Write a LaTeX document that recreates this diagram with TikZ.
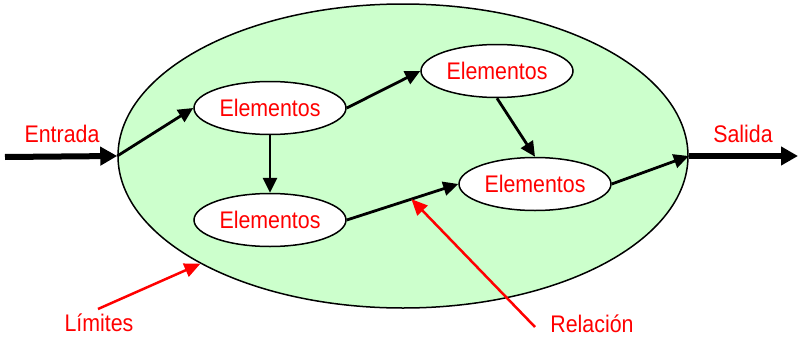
\documentclass[tikz,border=0pt]{standalone}
\usepackage{fontspec}
\setmainfont{Liberation Sans}
\usetikzlibrary{arrows.meta,shapes.geometric}
\definecolor{sysgreen}{HTML}{CCFFCC}
\definecolor{lblred}{HTML}{FF0000}
\newcommand{\lbl}[1]{\scalebox{0.89}[1]{#1}}
\begin{document}
\begin{tikzpicture}[x=1pt,y=-1pt,
  txt/.style={text=lblred,font=\fontsize{24}{24}\selectfont,inner sep=1pt},
  elem/.style={ellipse,draw=black,line width=1.5pt,fill=white,minimum width=152pt,minimum height=53pt,inner sep=0pt,text=lblred,font=\fontsize{24}{24}\selectfont},
  flow/.style={line width=2.8pt,-{Triangle[length=15pt,width=14pt]}},
  io/.style={line width=6pt,-{Triangle[length=17pt,width=18pt]}},
  note/.style={draw=lblred,line width=2.5pt,-{Triangle[length=16pt,width=14pt]}}]
\useasboundingbox (0,0) rectangle (798,340);
\node[ellipse,draw=black,line width=1.5pt,fill=sysgreen,minimum width=570pt,minimum height=304pt,inner sep=0pt] (sys) at (403,156) {};
\node[elem] (e1) at (270,108) {\lbl{Elementos}};
\node[elem] (e2) at (497,71) {\lbl{Elementos}};
\node[elem] (e3) at (270,220) {\lbl{Elementos}};
\node[elem] (e4) at (535,184) {\lbl{Elementos}};
\node[txt] (ent) at (62,134) {\lbl{Entrada}};
\node[txt] (sal) at (743,134) {\lbl{Salida}};
\node[txt] (lim) at (99,323) {\lbl{Límites}};
\node[txt] (rel) at (592,324) {\lbl{Relación}};
\coordinate (in) at (5,157);
\coordinate (out) at (798,156);
\coordinate (limstart) at (98,309);
\coordinate (relstart) at (535,327);
\draw[io] (in) -- (sys.west);
\draw[io] (sys.east) -- (out);
\draw[flow] (sys.west) -- (e1.west);
\draw[flow] (e1.east) -- (e2.west);
\draw[flow] (e1.south) -- (e3.north);
\draw[flow] (e2.south) -- (e4.north);
\draw[flow] (e3.east) -- coordinate[pos=0.58] (relpt) (e4.west);
\draw[flow] (e4.east) -- (sys.east);
\draw[note] (limstart) -- (sys.208);
\draw[note] (relstart) -- (relpt);
\end{tikzpicture}
\end{document}
